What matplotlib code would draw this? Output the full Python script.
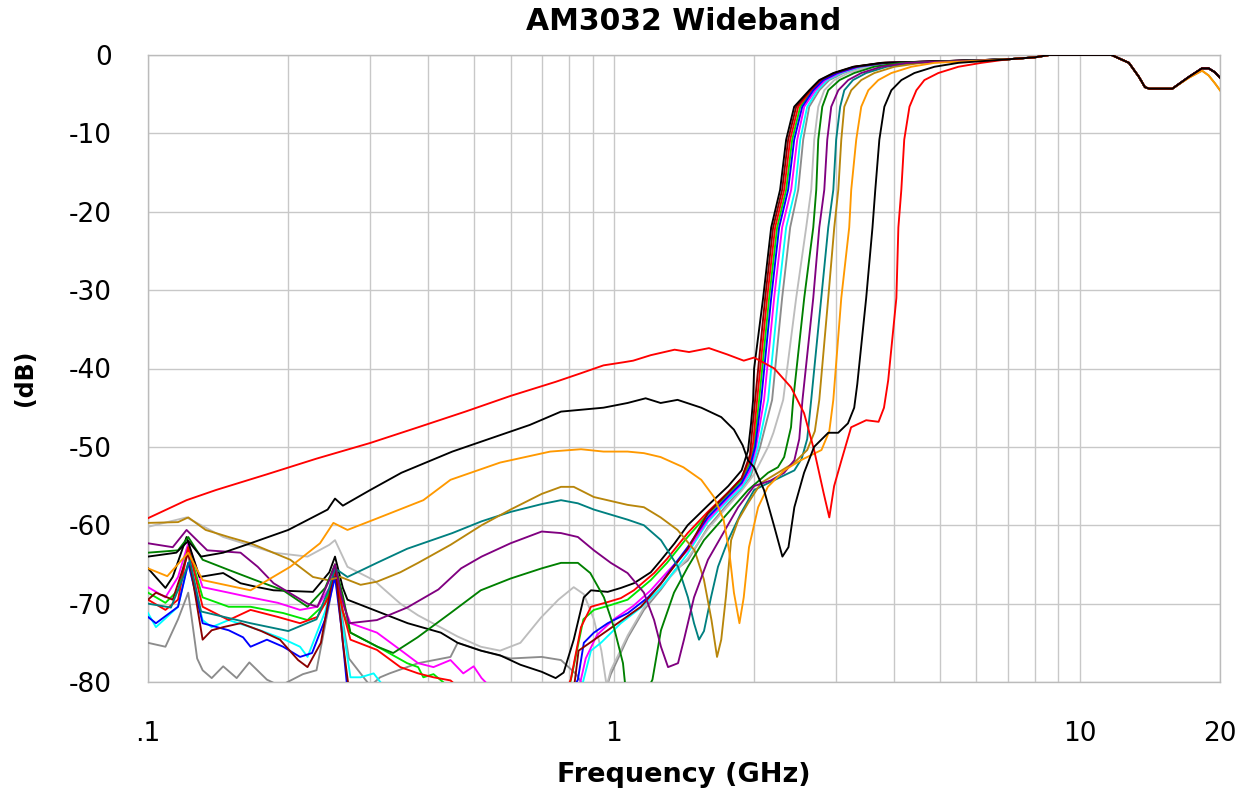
import matplotlib
matplotlib.use("Agg")
import matplotlib.pyplot as plt
from matplotlib.ticker import FixedLocator, NullFormatter

TITLE = "AM3032 Wideband"
X_LABEL = "Frequency (GHz)"
Y_LABEL = "(dB)"
X_TICKS = [0.1, 1, 10, 20]
X_TICK_LABELS = [".1", "1", "10", "20"]
X_MINOR = [0.2, 0.3, 0.4, 0.5, 0.6, 0.7, 0.8, 0.9, 2, 3, 4, 5, 6, 7, 8, 9]
Y_TICKS = [0, -10, -20, -30, -40, -50, -60, -70, -80]

# shared passband (all filters overlap above ~7 GHz)
TAIL_F = [7.0, 8.0, 8.6, 11.7, 12.75, 13.4, 13.8, 14.1, 15.8, 17.15, 18.3, 18.9, 19.5, 20.0]
TAIL_DB = [-0.55, -0.3, 0.0, 0.0, -1.0, -2.8, -4.1, -4.3, -4.3, -2.8, -1.7, -1.7, -2.2, -2.9]
TAIL_DB_WARM = [-0.55, -0.3, 0.0, 0.0, -1.0, -2.8, -4.1, -4.3, -4.3, -2.9, -2.0, -2.6, -3.6, -4.5]

# (frequency GHz, dB)
RED_A = [(0.1, -59.1), (0.121, -56.8), (0.14, -55.5), (0.18, -53.5), (0.23, -51.5), (0.3, -49.5),
         (0.38, -47.5), (0.48, -45.5), (0.6, -43.5), (0.75, -41.7), (0.85, -40.6), (0.95, -39.6),
         (1.05, -39.2), (1.1, -39.0), (1.2, -38.3), (1.35, -37.6), (1.45, -37.9), (1.6, -37.4),
         (1.75, -38.2), (1.9, -39.0), (2.0, -38.6), (2.21, -40.0), (2.40, -42.4), (2.56, -45.7),
         (2.69, -50.4), (2.82, -55.9), (2.90, -59.0), (2.97, -55.0), (3.08, -51.7), (3.23, -47.5),
         (3.48, -46.6), (3.70, -46.8), (3.80, -45.0), (3.88, -41.5), (4.04, -31.0), (4.08, -22.0),
         (4.14, -17.2), (4.20, -10.8), (4.31, -6.6), (4.46, -4.5), (4.64, -3.2), (4.97, -2.3),
         (5.49, -1.5), (6.15, -1.0)]

BLACK_A = [(0.1, -64.0), (0.115, -63.5), (0.122, -62.0), (0.13, -64.0), (0.145, -63.5), (0.166, -62.3),
           (0.2, -60.6), (0.243, -58.0), (0.252, -56.6), (0.262, -57.5), (0.3, -55.5), (0.35, -53.3),
           (0.45, -50.6), (0.57, -48.5), (0.66, -47.2), (0.77, -45.5), (0.95, -45.0), (1.07, -44.4),
           (1.17, -43.8), (1.26, -44.4), (1.37, -44.0), (1.54, -45.0), (1.70, -46.2), (1.81, -47.8),
           (1.89, -49.8), (1.94, -51.7), (2.00, -52.6), (2.10, -55.5), (2.21, -60.2), (2.30, -64.0),
           (2.37, -62.8), (2.44, -57.7), (2.56, -53.3), (2.69, -50.0), (2.885, -48.2), (3.03, -48.2),
           (3.18, -47.0), (3.28, -45.0), (3.33, -42.0), (3.48, -31.0), (3.59, -22.0), (3.64, -17.2),
           (3.714, -10.8), (3.807, -6.6), (3.941, -4.5), (4.141, -3.2), (4.416, -2.3), (4.876, -1.5),
           (5.493, -1.0)]

ORANGE = [(0.1, -65.5), (0.11, -66.5), (0.122, -63.5), (0.131, -67.0), (0.166, -68.3), (0.202, -65.3),
          (0.234, -62.3), (0.25, -59.7), (0.268, -60.6), (0.305, -59.3), (0.39, -56.8), (0.446, -54.2),
          (0.57, -52.0), (0.73, -50.6), (0.85, -50.3), (0.95, -50.6), (1.07, -50.6), (1.16, -50.8),
          (1.26, -51.3), (1.41, -52.6), (1.54, -54.2), (1.64, -56.4), (1.72, -59.3), (1.77, -63.5),
          (1.81, -68.6), (1.86, -72.5), (1.90, -69.2), (1.95, -62.8), (2.04, -57.7), (2.14, -55.1),
          (2.32, -53.0), (2.52, -51.7), (2.79, -50.4), (2.90, -48.0), (2.958, -44.0), (3.077, -31.0),
          (3.20, -22.0), (3.232, -17.2), (3.313, -10.8), (3.396, -6.6), (3.517, -4.5), (3.695, -3.2),
          (3.941, -2.3), (4.351, -1.5), (4.876, -1.0)]

GOLDENROD = [(0.1, -59.7), (0.116, -59.6), (0.122, -59.0), (0.133, -60.6), (0.149, -61.5), (0.166, -62.3),
             (0.202, -64.4), (0.226, -66.6), (0.243, -67.0), (0.259, -66.6), (0.286, -67.6), (0.31, -67.2),
             (0.348, -66.0), (0.38, -64.8), (0.446, -62.5), (0.52, -60.0), (0.6, -58.0), (0.70, -56.0),
             (0.77, -55.1), (0.82, -55.1), (0.906, -56.4), (1.07, -57.4), (1.16, -57.7), (1.26, -59.0),
             (1.37, -60.6), (1.49, -63.2), (1.56, -66.9), (1.62, -72.1), (1.665, -76.8), (1.70, -74.6),
             (1.74, -69.1), (1.785, -61.9), (1.85, -59.3), (1.94, -57.2), (2.07, -54.6), (2.25, -53.3),
             (2.44, -52.0), (2.60, -50.4), (2.70, -48.0), (2.76, -44.0), (2.885, -31.0), (2.972, -22.0),
             (3.032, -17.2), (3.077, -10.8), (3.123, -6.6), (3.232, -4.5), (3.396, -3.2), (3.623, -2.3),
             (4.0, -1.5), (4.572, -1.0)]

TEAL = [(0.1, -70.0), (0.112, -70.5), (0.123, -64.5), (0.13, -71.0), (0.166, -72.5), (0.2, -73.5),
        (0.23, -72.0), (0.245, -68.0), (0.252, -65.5), (0.268, -66.6), (0.31, -64.8), (0.36, -63.0),
        (0.45, -61.0), (0.52, -59.5), (0.6, -58.3), (0.7, -57.3), (0.77, -56.8), (0.837, -57.2),
        (0.906, -58.0), (1.072, -59.3), (1.16, -60.0), (1.262, -61.9), (1.373, -65.3), (1.442, -69.2),
        (1.486, -72.5), (1.523, -74.6), (1.561, -73.5), (1.616, -69.2), (1.673, -65.3), (1.759, -61.9),
        (1.876, -58.4), (2.0, -55.5), (2.2, -54.3), (2.44, -53.0), (2.53, -51.5), (2.60, -49.0),
        (2.652, -44.0), (2.787, -31.0), (2.885, -22.0), (2.958, -17.2), (3.0, -10.8), (3.06, -6.6),
        (3.123, -4.5), (3.26, -3.2), (3.48, -2.3), (3.85, -1.5), (4.42, -1.0)]

PURPLE = [(0.1, -62.3), (0.113, -62.8), (0.121, -60.6), (0.134, -63.2), (0.158, -63.5), (0.172, -65.3),
          (0.186, -67.4), (0.22, -70.0), (0.231, -70.4), (0.245, -67.0), (0.252, -65.0), (0.26, -69.0),
          (0.27, -72.5), (0.31, -72.1), (0.36, -70.5), (0.42, -68.2), (0.47, -65.5), (0.52, -64.0),
          (0.6, -62.3), (0.7, -60.8), (0.77, -61.0), (0.837, -61.5), (0.906, -63.2), (0.985, -64.8),
          (1.07, -66.1), (1.16, -68.6), (1.22, -72.1), (1.262, -75.5), (1.307, -78.1), (1.373, -77.6),
          (1.414, -74.6), (1.486, -69.2), (1.592, -64.4), (1.698, -61.5), (1.848, -57.7), (2.0, -55.0),
          (2.17, -54.3), (2.32, -53.3), (2.44, -51.7), (2.50, -49.0), (2.54, -44.0), (2.679, -31.0),
          (2.76, -22.0), (2.829, -17.2), (2.871, -10.8), (2.928, -6.6), (3.032, -4.5), (3.184, -3.2),
          (3.396, -2.3), (3.751, -1.5), (4.26, -1.0)]

GREEN = [(0.1, -63.5), (0.116, -63.2), (0.122, -61.5), (0.131, -64.4), (0.149, -65.7), (0.17, -67.0),
         (0.195, -68.3), (0.22, -70.4), (0.24, -68.0), (0.252, -65.0), (0.262, -69.0), (0.272, -73.7),
         (0.311, -75.5), (0.336, -76.3), (0.379, -74.3), (0.446, -71.2), (0.518, -68.3), (0.6, -66.8),
         (0.7, -65.5), (0.77, -64.8), (0.837, -64.8), (0.89, -66.1), (0.952, -69.2), (1.0, -73.0),
         (1.046, -77.6), (1.06, -81.0), (1.18, -81.0), (1.21, -79.7), (1.262, -73.4), (1.346, -68.6),
         (1.442, -65.3), (1.561, -61.9), (1.759, -58.4), (1.942, -55.5), (2.143, -53.3), (2.25, -52.6),
         (2.32, -51.3), (2.40, -47.5), (2.426, -44.0), (2.562, -31.0), (2.679, -22.0), (2.719, -17.2),
         (2.746, -10.8), (2.801, -6.6), (2.885, -4.5), (3.05, -3.2), (3.28, -2.3), (3.62, -1.5),
         (4.14, -1.0)]

SILVER = [(0.1, -60.2), (0.121, -59.0), (0.145, -61.5), (0.186, -63.5), (0.22, -64.0), (0.245, -62.5),
          (0.252, -61.9), (0.268, -65.3), (0.305, -67.0), (0.348, -70.0), (0.38, -71.5), (0.43, -73.2),
          (0.462, -74.2), (0.518, -75.5), (0.57, -76.0), (0.63, -75.0), (0.697, -71.8), (0.76, -69.5),
          (0.82, -67.9), (0.862, -68.8), (0.906, -72.0), (0.94, -76.0), (0.965, -80.5), (0.985, -78.5),
          (1.072, -74.0), (1.16, -70.5), (1.262, -67.9), (1.35, -66.0), (1.44, -64.2), (1.59, -60.5),
          (1.76, -57.5), (1.88, -55.6), (2.0, -53.5), (2.143, -50.0), (2.2, -48.2), (2.309, -44.0),
          (2.462, -31.0), (2.587, -22.0), (2.652, -17.2), (2.692, -10.8), (2.746, -6.6), (2.829, -4.5),
          (2.972, -3.2), (3.184, -2.3), (3.517, -1.5), (4.0, -1.0)]

GRAY = [(0.1, -75.0), (0.109, -75.5), (0.116, -72.0), (0.122, -68.6), (0.1275, -77.0), (0.131, -78.5),
        (0.137, -79.5), (0.145, -78.0), (0.155, -79.5), (0.165, -77.5), (0.18, -79.7), (0.192, -80.5),
        (0.215, -79.0), (0.23, -78.5), (0.245, -70.0), (0.252, -65.5), (0.26, -71.0), (0.27, -77.0),
        (0.30, -80.5), (0.315, -79.4), (0.33, -78.9), (0.38, -77.6), (0.446, -76.8), (0.462, -75.0),
        (0.52, -76.0), (0.6, -77.0), (0.7, -76.8), (0.77, -77.2), (0.83, -79.0), (0.87, -81.0),
        (0.96, -81.0), (0.985, -79.0), (1.072, -74.3), (1.16, -70.8), (1.262, -68.2), (1.35, -65.8),
        (1.44, -64.5), (1.59, -60.3), (1.76, -57.2), (1.88, -55.4), (1.96, -54.0), (2.06, -50.0),
        (2.186, -44.0), (2.297, -31.0), (2.390, -22.0), (2.487, -17.2), (2.549, -10.8), (2.626, -6.6),
        (2.760, -4.5), (2.899, -3.2), (3.108, -2.3), (3.43, -1.5), (3.94, -1.0)]

BLACK_B = [(0.1, -65.5), (0.109, -68.0), (0.113, -66.6), (0.121, -61.5), (0.129, -66.6), (0.145, -66.1),
           (0.158, -67.4), (0.172, -67.9), (0.186, -68.3), (0.226, -68.5), (0.245, -66.0), (0.252, -64.0),
           (0.262, -68.0), (0.268, -69.5), (0.305, -70.8), (0.361, -72.5), (0.425, -73.7), (0.462, -75.0),
           (0.518, -76.0), (0.57, -76.6), (0.63, -77.8), (0.70, -78.7), (0.75, -79.5), (0.78, -78.8),
           (0.82, -74.6), (0.862, -69.2), (0.893, -68.3), (0.97, -68.5), (1.035, -68.0), (1.104, -67.4),
           (1.2, -66.0), (1.26, -64.5), (1.35, -62.3), (1.44, -60.0), (1.59, -57.5), (1.76, -55.0),
           (1.88, -53.0), (1.94, -50.5), (1.97, -47.0), (1.99, -44.0), (2.0, -40.0), (2.091, -31.0),
           (2.176, -22.0), (2.274, -17.2), (2.343, -10.8), (2.438, -6.6), (2.626, -4.5), (2.760, -3.2),
           (2.958, -2.3), (3.264, -1.5), (3.751, -1.0)]

MAROON = [(0.1, -69.5), (0.104, -68.6), (0.113, -69.5), (0.122, -63.5), (0.131, -74.6), (0.137, -73.4),
          (0.145, -73.0), (0.158, -72.5), (0.175, -73.5), (0.192, -74.6), (0.21, -77.2), (0.22, -78.1),
          (0.235, -75.0), (0.252, -65.0), (0.262, -75.0), (0.27, -81.0), (0.82, -81.0), (0.84, -76.0),
          (0.97, -73.4), (1.143, -70.4), (1.26, -67.5), (1.44, -63.0), (1.59, -58.5), (1.76, -55.8),
          (1.88, -54.0), (1.96, -51.0), (1.98, -48.0), (2.01, -44.0), (2.112, -31.0), (2.197, -22.0),
          (2.297, -17.2), (2.366, -10.8), (2.462, -6.6), (2.639, -4.5), (2.773, -3.2), (2.972, -2.3),
          (3.28, -1.5), (3.77, -1.0)]

RED_B = [(0.1, -69.5), (0.109, -70.8), (0.116, -69.5), (0.122, -62.8), (0.131, -70.4), (0.149, -72.1),
         (0.166, -70.8), (0.19, -71.7), (0.212, -72.5), (0.231, -71.7), (0.245, -69.0), (0.252, -66.0),
         (0.262, -71.0), (0.272, -74.6), (0.31, -75.9), (0.348, -78.1), (0.38, -78.9), (0.41, -79.4),
         (0.446, -79.8), (0.47, -81.0), (0.79, -81.0), (0.808, -79.7), (0.85, -73.0), (0.893, -70.4),
         (0.97, -69.8), (1.035, -69.3), (1.104, -68.3), (1.22, -66.1), (1.3, -64.3), (1.44, -61.0),
         (1.59, -58.3), (1.76, -55.8), (1.88, -54.0), (1.96, -51.5), (1.99, -49.5), (2.03, -44.0),
         (2.133, -31.0), (2.219, -22.0), (2.320, -17.2), (2.390, -10.8), (2.487, -6.6), (2.652, -4.5),
         (2.787, -3.2), (2.987, -2.3), (3.296, -1.5), (3.79, -1.0)]

LIME = [(0.1, -68.6), (0.109, -69.9), (0.116, -68.3), (0.122, -62.8), (0.131, -69.2), (0.149, -70.4),
        (0.166, -70.4), (0.195, -71.2), (0.22, -72.1), (0.24, -70.0), (0.252, -66.0), (0.262, -71.0),
        (0.272, -73.7), (0.32, -75.9), (0.36, -77.6), (0.38, -78.1), (0.39, -79.4), (0.41, -79.0),
        (0.44, -80.5), (0.46, -81.0), (0.80, -81.0), (0.82, -78.0), (0.86, -72.0), (0.906, -70.8),
        (0.97, -70.3), (1.07, -69.5), (1.2, -67.0), (1.3, -64.8), (1.44, -61.5), (1.59, -58.6),
        (1.76, -56.0), (1.88, -54.3), (1.96, -52.0), (2.0, -50.0), (2.05, -44.0), (2.154, -31.0),
        (2.241, -22.0), (2.343, -17.2), (2.414, -10.8), (2.512, -6.6), (2.665, -4.5), (2.801, -3.2),
        (3.002, -2.3), (3.313, -1.5), (3.807, -1.0)]

BLUE = [(0.1, -71.7), (0.104, -72.5), (0.116, -70.4), (0.122, -64.8), (0.131, -72.5), (0.149, -73.4),
        (0.16, -74.3), (0.166, -75.5), (0.18, -74.6), (0.195, -75.5), (0.212, -76.8), (0.225, -76.3),
        (0.24, -72.0), (0.252, -66.6), (0.26, -73.0), (0.268, -81.0), (0.815, -81.0), (0.837, -79.7),
        (0.862, -75.0), (0.906, -73.7), (0.97, -72.5), (1.072, -71.2), (1.184, -69.2), (1.262, -67.4),
        (1.35, -65.0), (1.44, -62.8), (1.59, -59.0), (1.76, -56.3), (1.88, -54.6), (1.96, -52.5),
        (2.01, -50.0), (2.071, -44.0), (2.176, -31.0), (2.263, -22.0), (2.366, -17.2), (2.438, -10.8),
        (2.537, -6.6), (2.679, -4.5), (2.815, -3.2), (3.017, -2.3), (3.329, -1.5), (3.826, -1.0)]

MAGENTA = [(0.1, -67.9), (0.109, -69.2), (0.116, -66.6), (0.122, -62.3), (0.131, -67.9), (0.149, -68.6),
           (0.166, -69.2), (0.19, -69.9), (0.212, -70.8), (0.231, -70.4), (0.245, -68.0), (0.252, -65.5),
           (0.262, -70.0), (0.272, -72.5), (0.31, -73.7), (0.348, -75.9), (0.38, -77.6), (0.41, -78.1),
           (0.446, -77.2), (0.475, -78.9), (0.5, -78.0), (0.52, -79.5), (0.55, -81.0), (0.84, -81.0),
           (0.87, -77.0), (0.92, -74.0), (1.0, -72.0), (1.1, -70.3), (1.2, -68.3), (1.3, -66.0),
           (1.44, -63.2), (1.59, -59.3), (1.76, -56.5), (1.88, -54.8), (1.96, -53.0), (2.02, -50.0),
           (2.101, -44.0), (2.208, -31.0), (2.297, -22.0), (2.402, -17.2), (2.475, -10.8), (2.562, -6.6),
           (2.706, -4.5), (2.843, -3.2), (3.047, -2.3), (3.362, -1.5), (3.864, -1.0)]

CYAN = [(0.1, -71.2), (0.104, -73.0), (0.116, -70.4), (0.122, -64.8), (0.131, -72.1), (0.137, -73.0),
        (0.149, -72.1), (0.174, -73.4), (0.195, -74.5), (0.212, -75.5), (0.22, -76.8), (0.24, -71.0),
        (0.252, -66.6), (0.262, -73.0), (0.272, -79.4), (0.286, -79.4), (0.305, -78.9), (0.32, -80.5),
        (0.33, -81.0), (0.85, -81.0), (0.893, -76.0), (0.938, -75.0), (1.035, -72.5), (1.143, -70.5),
        (1.262, -68.0), (1.35, -65.8), (1.44, -63.6), (1.59, -59.6), (1.76, -56.8), (1.88, -55.2),
        (1.96, -53.5), (2.04, -50.0), (2.143, -44.0), (2.252, -31.0), (2.343, -22.0), (2.450, -17.2),
        (2.512, -10.8), (2.600, -6.6), (2.733, -4.5), (2.871, -3.2), (3.078, -2.3), (3.396, -1.5),
        (3.90, -1.0)]

# drawing order (first = bottom), colours, and which passband ending each uses
SERIES = [GRAY, SILVER, CYAN, MAGENTA, LIME, RED_B, BLUE, MAROON, BLACK_B,
          TEAL, GOLDENROD, GREEN, PURPLE, ORANGE, RED_A, BLACK_A]
COLORS = ["#8C8C8C", "#BDBDBD", "#00FFFF", "#FF00FF", "#00E600", "#FF0000", "#0000FF", "#8B0000", "#000000",
          "#008080", "#B8860B", "#008000", "#800080", "#FF9900", "#FF0000", "#000000"]
WARM_TAIL = [False, False, False, False, False, False, False, False, False,
             False, True, False, False, True, False, False]

fig = plt.figure(figsize=(12.48, 7.96), dpi=100)
ax = fig.add_axes([148 / 1248, 1 - 682 / 796, (1220 - 148) / 1248, (682 - 55) / 796])
ax.set_xscale("log")
ax.set_xlim(0.1, 20)
ax.set_ylim(-80, 0)

for pts, col, warm in zip(SERIES, COLORS, WARM_TAIL):
    f = [p[0] for p in pts] + TAIL_F
    d = [p[1] for p in pts] + (TAIL_DB_WARM if warm else TAIL_DB)
    ax.plot(f, d, color=col, lw=1.35, solid_joinstyle="round", zorder=3)

ax.xaxis.set_major_locator(FixedLocator(X_TICKS))
ax.set_xticklabels(X_TICK_LABELS)
ax.xaxis.set_minor_locator(FixedLocator(X_MINOR))
ax.xaxis.set_minor_formatter(NullFormatter())
ax.set_yticks(Y_TICKS)
ax.set_yticklabels([str(v) for v in Y_TICKS])
ax.grid(which="both", axis="both", color="#C8C8C8", lw=1.0, zorder=0)
ax.tick_params(which="both", length=0)
ax.tick_params(axis="y", pad=26, labelsize=19)
ax.tick_params(axis="x", pad=28, labelsize=19)
for s in ax.spines.values():
    s.set_color("#BBBBBB")
    s.set_linewidth(1.0)

fig.text(684 / 1248, 1 - 22 / 796, TITLE, ha="center", va="center", fontsize=21.5, fontweight="bold")
fig.text(684 / 1248, 1 - 775 / 796, X_LABEL, ha="center", va="center", fontsize=19.5, fontweight="bold")
fig.text(25 / 1248, 1 - 378 / 796, Y_LABEL, ha="center", va="center", fontsize=17, fontweight="bold",
         rotation=90)

fig.savefig("out.png", dpi=100, facecolor="white")
